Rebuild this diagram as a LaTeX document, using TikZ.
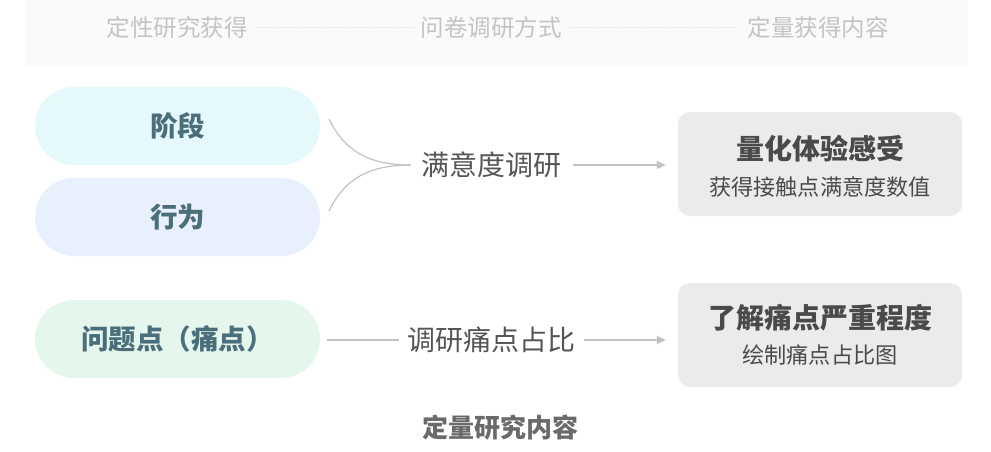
\documentclass[tikz,border=0pt]{standalone}
\usepackage{fontspec}
\setmainfont{Noto Sans CJK SC}
\usetikzlibrary{arrows.meta}
\definecolor{hdrbg}{HTML}{FAFAFA}
\definecolor{hdrtxt}{HTML}{C4C4C4}
\definecolor{pillA}{HTML}{E5F8FB}
\definecolor{pillB}{HTML}{E7F0FC}
\definecolor{pillC}{HTML}{E5F7EC}
\definecolor{pilltxt}{HTML}{4A6E7A}
\definecolor{midtxt}{HTML}{555555}
\definecolor{conn}{HTML}{C2C2C2}
\definecolor{boxbg}{HTML}{EBEBED}
\definecolor{boxtxt}{HTML}{4A4A4A}
\definecolor{captxt}{HTML}{6A6A6A}
\tikzset{
  hdr/.style={font=\fontsize{23.5}{27}\selectfont, text=hdrtxt, inner sep=0pt},
  pill/.style={rounded corners=39pt, minimum width=285pt, minimum height=78pt, inner sep=0pt,
    text=pilltxt, font=\fontsize{27.5}{31}\selectfont\bfseries},
  midlbl/.style={font=\fontsize{28}{32}\selectfont, text=midtxt, inner sep=0pt},
  res/.style={fill=boxbg, rounded corners=12pt, minimum width=284pt, minimum height=104pt, inner sep=0pt},
  restitle/.style={font=\fontsize{28}{32}\selectfont\bfseries, text=boxtxt, inner sep=0pt},
  ressub/.style={font=\fontsize{22.2}{26}\selectfont, text=boxtxt, inner sep=0pt},
  conline/.style={draw=conn, line width=1.2pt},
  conarrow/.style={conline, -{Triangle[length=9pt,width=8pt]}},
  dots/.style={draw=hdrtxt!70, line width=1pt, dash pattern=on 1pt off 2pt}
}
\begin{document}
\begin{tikzpicture}[x=1pt,y=-1pt]
\useasboundingbox (0,0) rectangle (991,452);
\fill[white] (0,0) rectangle (991,452);
% header band
\fill[hdrbg] (25,0) rectangle (968,66);
\node[hdr] (h1) at (177,28) {定性研究获得};
\node[hdr] (h2) at (491,28) {问卷调研方式};
\node[hdr] (h3) at (818,28) {定量获得内容};
\draw[dots] ([xshift=8pt]h1.east) -- ([xshift=-8pt]h2.west);
\draw[dots] ([xshift=8pt]h2.east) -- ([xshift=-8pt]h3.west);
% pills
\node[pill, fill=pillA] (p1) at (177.5,126) {阶段};
\node[pill, fill=pillB] (p2) at (177.5,217) {行为};
\node[pill, fill=pillC] (p3) at (177.5,339) {问题点（痛点）};
% middle labels
\node[midlbl] (m1) at (491,165) {满意度调研};
\node[midlbl] (m2) at (491,340) {调研痛点占比};
% result boxes
\node[res] (r1) at (820,164) {};
\node[restitle] (r1t) at (820,149) {量化体验感受};
\node[ressub] (r1s) at (820,187) {获得接触点满意度数值};
\node[res] (r2) at (820,335) {};
\node[restitle] (r2t) at (820,318) {了解痛点严重程度};
\node[ressub] (r2s) at (820,355) {绘制痛点占比图};
% converging curves
\coordinate (c1) at (329,119);
\coordinate (c2) at (329,211);
\coordinate (cm) at ([xshift=-10pt]m1.west);
\draw[conline] (c1) .. controls (345,152) and (370,165) .. (cm);
\draw[conline] (c2) .. controls (345,178) and (370,165) .. (cm);
% arrows
\draw[conarrow] ([xshift=12pt]m1.east) -- ([xshift=-12pt]r1.west |- m1.east);
\draw[conline] ([xshift=7pt]p3.east |- m2.west) -- ([xshift=-8pt]m2.west);
\draw[conarrow] ([xshift=9pt]m2.east) -- ([xshift=-12pt]r2.west |- m2.east);
% caption
\node[font=\fontsize{26}{30}\selectfont\bfseries, text=captxt, inner sep=0pt] (cap) at (500,428) {定量研究内容};
\end{tikzpicture}
\end{document}
